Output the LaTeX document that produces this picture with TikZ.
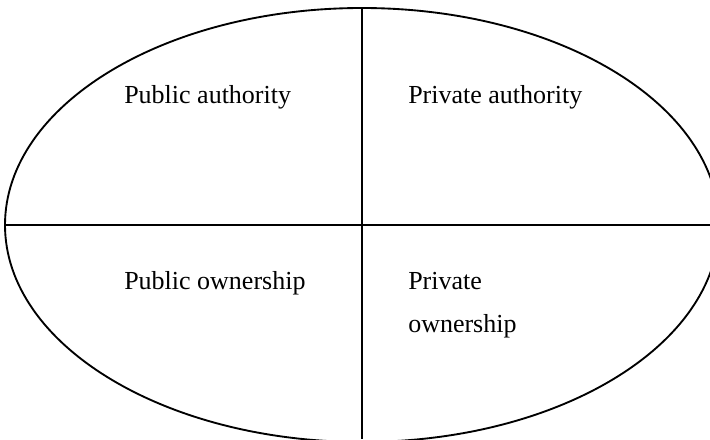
\documentclass[tikz,border=0pt]{standalone}
\usepackage{fontspec}
\setmainfont{Liberation Serif}
\begin{document}
\begin{tikzpicture}[x=0.75pt,y=-0.75pt,
  lbl/.style={anchor=base west,inner sep=0pt,font=\fontsize{19.5pt}{24pt}\selectfont},
  edge/.style={line width=1.4pt,black}]
\useasboundingbox (0,0) rectangle (710,439);
\clip (0,0) rectangle (710,439);
\draw[edge] (362,225) ellipse [x radius=357, y radius=217];
\coordinate (top) at (362,8);
\coordinate (bot) at (362,439);
\coordinate (lft) at (5,225);
\coordinate (rgt) at (710,225);
\draw[edge] (top) -- (bot);
\draw[edge] (lft) -- (rgt);
\node[lbl] (pa) at (124,103) {Public authority};
\node[lbl] (pra) at (408,103) {Private authority};
\node[lbl] (po) at (124,289) {Public ownership};
\node[lbl] (pro) at (408,289) {Private};
\node[lbl] (pro2) at (408,332) {ownership};
\end{tikzpicture}
\end{document}
